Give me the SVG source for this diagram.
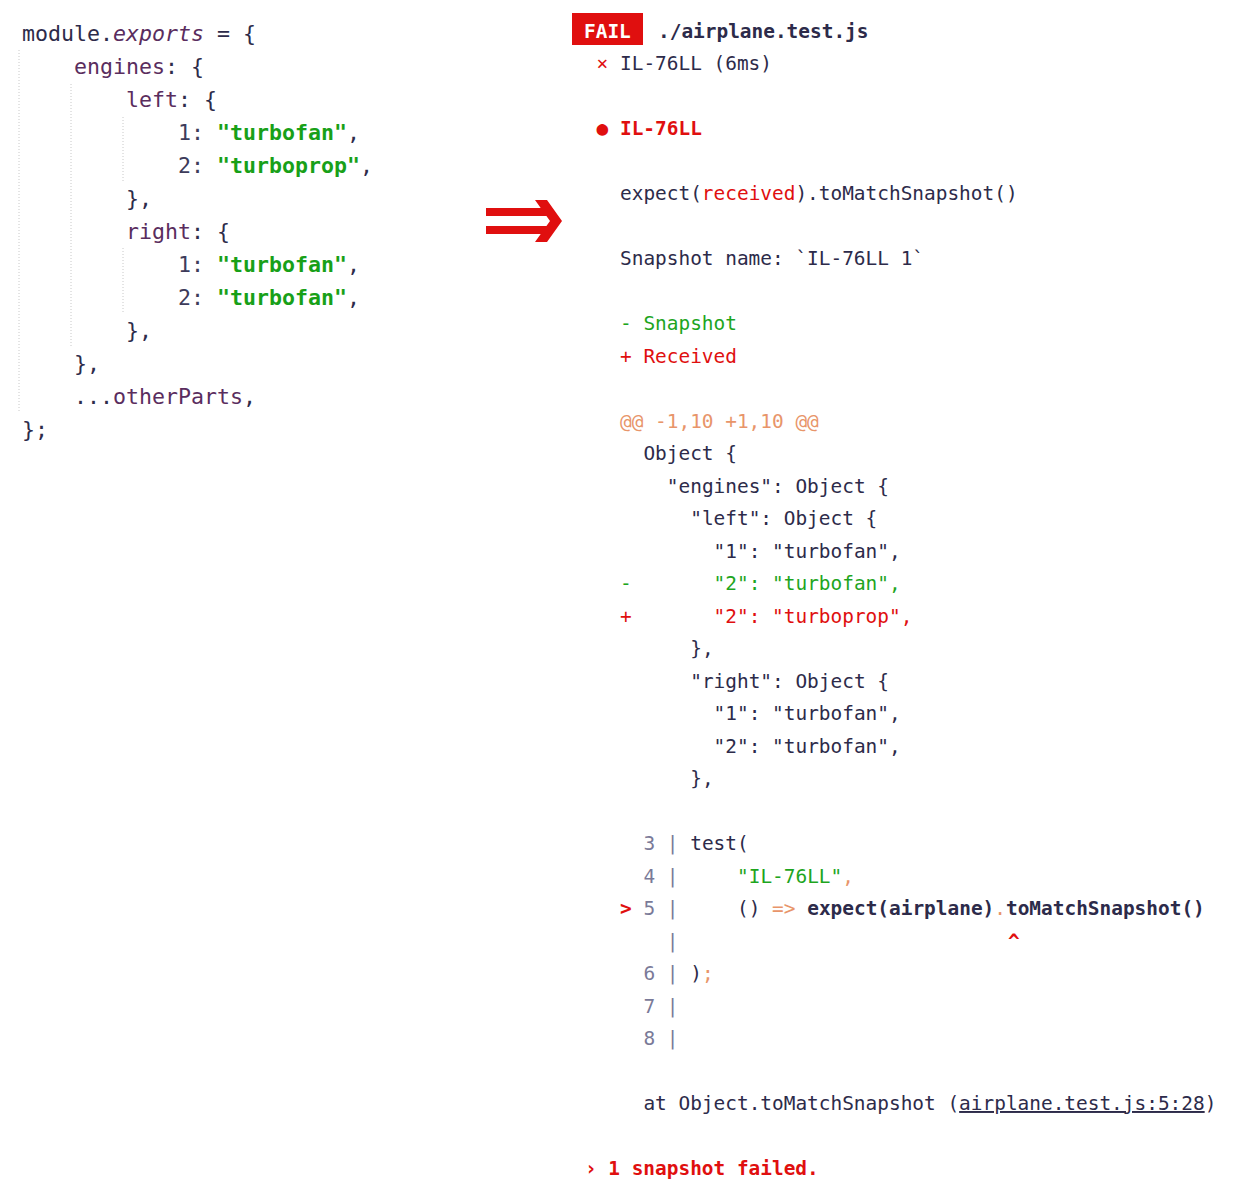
<svg xmlns="http://www.w3.org/2000/svg" width="1250" height="1194" viewBox="0 0 1250 1194">
<style>
  text { font-family: "DejaVu Sans Mono", "Liberation Mono", monospace; fill: #2d2b4a; }
  .l { font-size: 21.6px; }
  .r { font-size: 19.43px; }
  .kw { fill: #5a2d5e; }
  .it { font-style: italic; }
  .str { fill: #18a018; font-weight: bold; }
  .num { fill: #3d3b5a; }
  .red { fill: #e00f0f; }
  .grn { fill: #1ea51e; }
  .sal { fill: #e8956a; }
  .gry { fill: #7a7a98; }
  .b { font-weight: bold; }
  .wht { fill: #ffffff; font-weight: bold; }
  .guide { stroke: #c8c8c8; stroke-width: 1; stroke-dasharray: 1 2; fill: none; }
  .u { text-decoration: underline; }
</style>
<rect width="1250" height="1194" fill="#ffffff"/>

<g id="source-code">
  <line class="guide" x1="19" y1="50" x2="19" y2="411"/>
  <line class="guide" x1="71" y1="84" x2="71" y2="346"/>
  <line class="guide" x1="123" y1="117" x2="123" y2="181"/>
  <line class="guide" x1="123" y1="248" x2="123" y2="313"/>
  <text class="l" x="22" y="41">module.<tspan class="kw it">exports</tspan> = {</text>
  <text class="l" x="74" y="74"><tspan class="kw">engines</tspan>: {</text>
  <text class="l" x="126" y="107"><tspan class="kw">left</tspan>: {</text>
  <text class="l" x="178" y="140"><tspan class="num">1:</tspan> <tspan class="str">"turbofan"</tspan>,</text>
  <text class="l" x="178" y="173"><tspan class="num">2:</tspan> <tspan class="str">"turboprop"</tspan>,</text>
  <text class="l" x="126" y="206">},</text>
  <text class="l" x="126" y="239"><tspan class="kw">right</tspan>: {</text>
  <text class="l" x="178" y="272"><tspan class="num">1:</tspan> <tspan class="str">"turbofan"</tspan>,</text>
  <text class="l" x="178" y="305"><tspan class="num">2:</tspan> <tspan class="str">"turbofan"</tspan>,</text>
  <text class="l" x="126" y="338">},</text>
  <text class="l" x="74" y="371">},</text>
  <text class="l" x="74" y="404">...<tspan class="kw">otherParts</tspan>,</text>
  <text class="l" x="22" y="437">};</text>
</g>

<g id="connectors">
  <path d="M486 208 H549 V216 H486 Z M486 226 H549 V234 H486 Z M535 200 H547 L562 221 L547 242 H535 L550 221 Z" fill="#e00f0f"/>
</g>

<g id="test-output">
  <rect x="572" y="13" width="71" height="32" fill="#e00f0f"/>
  <text class="r wht" x="584" y="37.5" style="fill:#ffffff">FAIL</text>
  <text class="r b" x="658" y="37.5">./airplane.test.js</text>
  <text class="r" x="596.6" y="70"><tspan class="red">×</tspan> IL-76LL (6ms)</text>
  <text class="r b red" x="596.6" y="135">● IL-76LL</text>
  <text class="r" x="620" y="200">expect(<tspan class="red">received</tspan>).toMatchSnapshot()</text>
  <text class="r" x="620" y="265">Snapshot name: `IL-76LL 1`</text>
  <text class="r grn" x="620" y="330">- Snapshot</text>
  <text class="r red" x="620" y="362.5">+ Received</text>
  <text class="r sal" x="620" y="427.5">@@ -1,10 +1,10 @@</text>
  <text class="r" x="643.4" y="460">Object {</text>
  <text class="r" x="666.8" y="492.5">"engines": Object {</text>
  <text class="r" x="690.2" y="525">"left": Object {</text>
  <text class="r" x="713.6" y="557.5">"1": "turbofan",</text>
  <text class="r grn" x="620" y="590">-</text>
  <text class="r grn" x="713.6" y="590">"2": "turbofan",</text>
  <text class="r red" x="620" y="622.5">+</text>
  <text class="r red" x="713.6" y="622.5">"2": "turboprop",</text>
  <text class="r" x="690.2" y="655">},</text>
  <text class="r" x="690.2" y="687.5">"right": Object {</text>
  <text class="r" x="713.6" y="720">"1": "turbofan",</text>
  <text class="r" x="713.6" y="752.5">"2": "turbofan",</text>
  <text class="r" x="690.2" y="785">},</text>

  <text class="r gry" x="643.4" y="850">3</text>
  <text class="r gry" x="666.8" y="850">|</text>
  <text class="r" x="690.2" y="850">test(</text>
  <text class="r gry" x="643.4" y="882.5">4</text>
  <text class="r gry" x="666.8" y="882.5">|</text>
  <text class="r" x="737" y="882.5"><tspan class="grn">"IL-76LL"</tspan><tspan class="sal">,</tspan></text>
  <text class="r b red" x="620" y="915">&gt;</text>
  <text class="r gry" x="643.4" y="915">5</text>
  <text class="r gry" x="666.8" y="915">|</text>
  <text class="r" x="737" y="915">() <tspan class="sal">=&gt;</tspan> <tspan class="b">expect(airplane)</tspan><tspan class="sal">.</tspan><tspan class="b">toMatchSnapshot()</tspan></text>
  <text class="r gry" x="666.8" y="947.5">|</text>
  <text class="r b red" x="1008" y="947.5">^</text>
  <text class="r gry" x="643.4" y="980">6</text>
  <text class="r gry" x="666.8" y="980">|</text>
  <text class="r" x="690.2" y="980">)<tspan class="sal">;</tspan></text>
  <text class="r gry" x="643.4" y="1012.5">7</text>
  <text class="r gry" x="666.8" y="1012.5">|</text>
  <text class="r gry" x="643.4" y="1045">8</text>
  <text class="r gry" x="666.8" y="1045">|</text>

  <text class="r" x="643.4" y="1110">at Object.toMatchSnapshot (<tspan class="u">airplane.test.js:5:28</tspan>)</text>
  <text class="r b red" x="584.9" y="1175">› 1 snapshot failed.</text>
</g>
</svg>
